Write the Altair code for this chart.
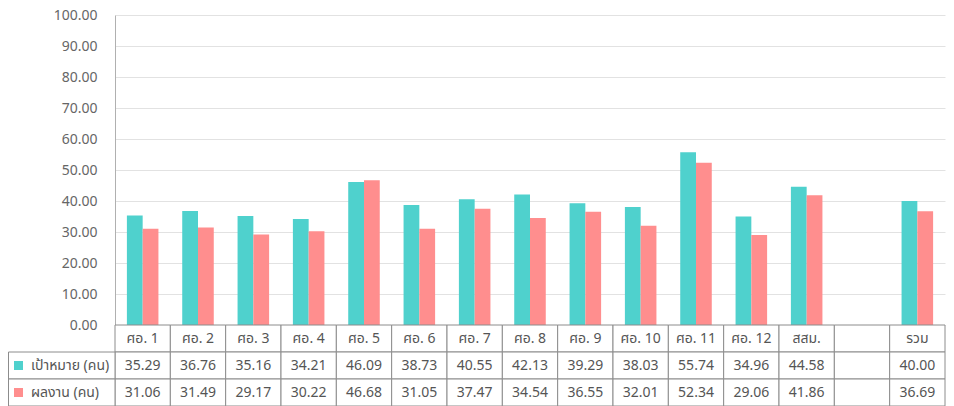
import altair as alt
import pandas as pd

categories = ["ศอ. 1", "ศอ. 2", "ศอ. 3", "ศอ. 4", "ศอ. 5", "ศอ. 6", "ศอ. 7",
              "ศอ. 8", "ศอ. 9", "ศอ. 10", "ศอ. 11", "ศอ. 12", "สสม.", " ", "รวม"]
target = [35.29, 36.76, 35.16, 34.21, 46.09, 38.73, 40.55, 42.13, 39.29,
          38.03, 55.74, 34.96, 44.58, None, 40.00]
result = [31.06, 31.49, 29.17, 30.22, 46.68, 31.05, 37.47, 34.54, 36.55,
          32.01, 52.34, 29.06, 41.86, None, 36.69]
series_names = ["เป้าหมาย (คน)", "ผลงาน (คน)"]
colors = ["#4fd1cd", "#ff8e8e"]
y_ticks = [0, 10, 20, 30, 40, 50, 60, 70, 80, 90, 100]

FONT = "Tahoma, 'Noto Sans Thai', 'Noto Sans', sans-serif"
TXT = "#555555"
BORDER = "#8c8c8c"

# bar data
bar_rows = []
for c, t, r in zip(categories, target, result):
    if t is not None:
        bar_rows.append({"cat": c, "series": series_names[0], "value": t})
    if r is not None:
        bar_rows.append({"cat": c, "series": series_names[1], "value": r})
bars_df = pd.DataFrame(bar_rows)

# table data
row_order = ["_cat"] + series_names
table_rows = []
for c, t, r in zip(categories, target, result):
    table_rows.append({"cat": c, "row": "_cat", "text": c.strip()})
    table_rows.append({"cat": c, "row": series_names[0], "text": "" if t is None else f"{t:.2f}"})
    table_rows.append({"cat": c, "row": series_names[1], "text": "" if r is None else f"{r:.2f}"})
table_df = pd.DataFrame(table_rows)

label_df = pd.DataFrame({"row": series_names, "series": series_names})

LEFT = 107
PLOT_W = 830
ROW_H = 27
color_scale = alt.Scale(domain=series_names, range=colors)

top = alt.Chart(bars_df).mark_bar().encode(
    x=alt.X("cat:N", sort=categories,
            scale=alt.Scale(domain=categories, paddingInner=0.43, paddingOuter=0.215),
            axis=None),
    xOffset=alt.XOffset("series:N", sort=series_names,
                        scale=alt.Scale(domain=series_names, paddingInner=0, paddingOuter=0)),
    y=alt.Y("value:Q", scale=alt.Scale(domain=[0, 100], nice=False),
            axis=alt.Axis(values=y_ticks, format=".2f", title=None, ticks=False,
                          labelPadding=18, domainColor="#b0b0b0", gridColor="#e2e2e2",
                          labelColor="#666666", labelFontSize=14, labelFont=FONT,
                          minExtent=LEFT, maxExtent=LEFT)),
    color=alt.Color("series:N", scale=color_scale, legend=None),
).properties(width=PLOT_W, height=310)

y_rows = alt.Y("row:N", sort=row_order,
               scale=alt.Scale(domain=row_order, paddingInner=0, paddingOuter=0), axis=None)

cells_base = alt.Chart(table_df).encode(
    x=alt.X("cat:N", sort=categories,
            scale=alt.Scale(domain=categories, paddingInner=0, paddingOuter=0), axis=None),
    y=y_rows,
)
cell_rects = cells_base.mark_rect(fill="white", stroke=BORDER, strokeWidth=1)
cell_text = cells_base.mark_text(font=FONT, fontSize=14, color=TXT).encode(text="text:N")

lab_base = alt.Chart(label_df).encode(y=y_rows)
lab_rect = lab_base.mark_rect(fill="white", stroke=BORDER, strokeWidth=1).encode(
    x=alt.value(-LEFT + 0.5), x2=alt.value(0))
lab_sq = lab_base.mark_square(size=81, opacity=1).encode(
    x=alt.value(-LEFT + 10.5), color=alt.Color("series:N", scale=color_scale, legend=None))
lab_txt = lab_base.mark_text(align="left", font=FONT, fontSize=14, color=TXT).encode(
    x=alt.value(-LEFT + 23), text="series:N")

table = alt.layer(cell_rects, cell_text, lab_rect, lab_sq, lab_txt).properties(
    width=PLOT_W, height=ROW_H * 3)

chart = alt.vconcat(top, table, spacing=0, bounds="flush").properties(
    padding=0).configure_view(stroke=None)

chart.save("out.html", embed_options={"renderer": "svg", "actions": False})
